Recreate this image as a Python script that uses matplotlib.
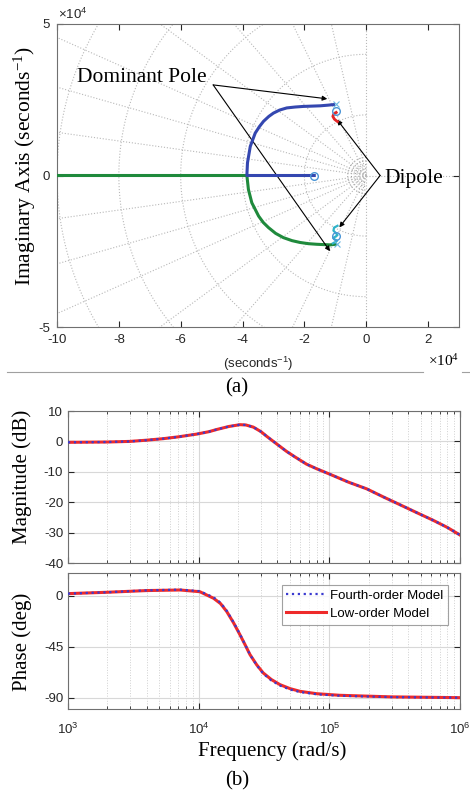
import numpy as np
import matplotlib
matplotlib.use("Agg")
import matplotlib.pyplot as plt
from matplotlib.lines import Line2D

plt.rcParams['font.family'] = ['Liberation Sans', 'DejaVu Sans']
plt.rcParams['mathtext.default'] = 'regular'
plt.rcParams['axes.unicode_minus'] = False

SERIF = ['Liberation Serif', 'DejaVu Serif']

# ---- root locus data (units of 1e4 s^-1) ----
blue_re = [-1.68, -2.5, -3.3, -3.86, -3.84, -3.75, -3.59, -3.45, -3.32, -3.15, -3.0, -2.8,
           -2.57, -2.3, -2.03, -1.75, -1.49, -1.25, -1.06]
blue_im = [0.0, 0.0, 0.0, 0.0, 0.42, 0.96, 1.40, 1.62, 1.79, 1.95, 2.06, 2.16,
           2.23, 2.26, 2.28, 2.29, 2.30, 2.32, 2.34]
green_re = [-10.0, -7.0, -5.0, -3.86, -3.81, -3.70, -3.48, -3.33, -3.16, -2.93, -2.68, -2.4,
            -2.14, -1.87, -1.60, -1.17, -1.0]
green_im = [0.0, 0.0, 0.0, 0.0, -0.46, -0.90, -1.34, -1.55, -1.72, -1.91, -2.05, -2.15,
            -2.21, -2.25, -2.27, -2.29, -2.27]
red_re = [-0.97, -1.05, -1.08, -1.03, -0.97, -0.93]
red_im = [2.08, 2.03, 1.95, 1.86, 1.81, 1.78]
cyan_re = [-0.93, -1.04, -1.06, -0.98, -0.93, -1.0, -1.07, -1.02, -0.94, -1.0, -1.08]
cyan_im = [-1.66, -1.72, -1.82, -1.9, -1.97, -2.02, -2.06, -2.11, -2.15, -2.2, -2.24]
pole_re = [-1.68, -0.97, -0.97]
pole_im = [0.0, 2.12, -2.0]
end_re = [-0.98, -0.95]
end_im = [2.36, -2.27]

# s-grid
zetas = [0.0, 0.22, 0.43, 0.65, 0.8, 0.91, 0.96, 0.99]
wns = [0.12, 0.24, 0.36, 0.48, 0.6, 2, 4, 6, 8, 10]

# ---- bode data ----
freq = [1e3, 2e3, 2.98e3, 4e3, 5.36e3, 7e3, 9.66e3, 1.2e4, 1.37e4, 1.7e4, 2.07e4, 2.3e4,
        2.62e4, 3.0e4, 3.31e4, 4.0e4, 4.71e4, 5.5e4, 6.7e4, 8e4, 1.01e5, 1.4e5, 1.93e5,
        2.6e5, 3.5e5, 4.7e5, 6.2e5, 8e5, 1e6]
mag_low = [-0.3, -0.2, 0.0, 0.4, 0.9, 1.5, 2.4, 3.2, 3.9, 4.9, 5.5, 5.4,
           4.7, 3.2, 1.7, -1.0, -3.3, -5.2, -7.5, -9.0, -10.8, -13.4, -15.6,
           -18.3, -20.9, -23.5, -25.9, -28.3, -30.8]
mag_full = [-0.3, -0.2, 0.0, 0.4, 0.9, 1.5, 2.4, 3.2, 3.9, 4.9, 5.5, 5.4,
            4.7, 3.2, 1.7, -1.0, -3.3, -5.2, -7.5, -9.0, -10.8, -13.4, -15.6,
            -18.3, -20.9, -23.5, -25.9, -28.3, -30.8]
freq_p = [1e3, 2e3, 4e3, 7.2e3, 1.02e4, 1.3e4, 1.47e4, 1.64e4, 1.85e4, 2.07e4, 2.27e4,
          2.47e4, 2.78e4, 3.12e4, 3.6e4, 4.19e4, 5e4, 5.96e4, 8e4, 1.2e5, 3e5, 1e6]
ph_low = [1.8, 3.0, 4.5, 5.0, 3.5, -2.3, -7.0, -14.0, -24.0, -34.5, -43.5,
          -52.0, -61.0, -68.2, -74.0, -78.5, -82.0, -84.4, -86.5, -87.9, -89.3, -90.0]
ph_full = [1.8, 3.0, 4.7, 5.3, 4.0, -1.5, -6.2, -13.3, -23.5, -34.0, -43.3,
           -52.0, -61.3, -68.8, -74.8, -79.3, -82.8, -85.0, -87.0, -88.3, -89.5, -90.0]

fig = plt.figure(figsize=(4.70, 7.94), dpi=100)

spine_col = '#707070'
tick_col = '#262626'

# ---------------- (a) root locus ----------------
ax = fig.add_axes([57/470, 1 - 327/794, 402/470, 303/794])
ax.set_xlim(-10, 3)
ax.set_ylim(-5, 5)

th = np.linspace(np.pi/2, 3*np.pi/2, 200)
for wn in wns:
    col = '#9a9a9a' if wn < 1 else '#b8b8b8'
    ax.plot(wn*np.cos(th), wn*np.sin(th), ls=':', color=col, lw=0.8, zorder=1)
for z in zetas:
    ang = np.arccos(z)
    r = 15
    ax.plot([0, -r*np.cos(ang)], [0, r*np.sin(ang)], ls=':', color='#b8b8b8', lw=0.8, zorder=1)
    ax.plot([0, -r*np.cos(ang)], [0, -r*np.sin(ang)], ls=':', color='#b8b8b8', lw=0.8, zorder=1)
ax.plot([0, 3], [0, 0], ls=':', color='#b8b8b8', lw=0.8, zorder=1)

ax.plot(green_re, green_im, color='#1f8a3c', lw=2.2, zorder=3, solid_joinstyle='round')
ax.plot(blue_re, blue_im, color='#3447b0', lw=2.2, zorder=4, solid_joinstyle='round')
ax.plot(red_re, red_im, color='#e42626', lw=2.0, zorder=4)
ax.plot(cyan_re, cyan_im, color='#2fb3c9', lw=1.6, zorder=4)
ax.plot(pole_re, pole_im, 'o', ms=5.5, mfc='none', mec='#4a95d6', mew=1.0, zorder=5)
ax.plot(end_re, end_im, 'x', ms=4, mec='#6ab8e0', mew=0.8, zorder=5)

ax.set_xticks([-10, -8, -6, -4, -2, 0, 2])
ax.set_yticks([-5, 0, 5])
ax.tick_params(direction='in', top=True, right=True, length=4, labelsize=9.5,
               colors=tick_col, pad=5)
for s in ax.spines.values():
    s.set_color(spine_col)

arrow = dict(arrowstyle='-|>', color='black', lw=0.8, mutation_scale=7, shrinkA=0, shrinkB=0)
ax.text(-5.15, 3.07, 'Dominant Pole', family=SERIF, fontsize=15.5, ha='right', va='baseline')
ax.annotate('', xy=(-1.26, 2.53), xytext=(-4.95, 2.99), arrowprops=arrow)
ax.annotate('', xy=(-1.17, -2.5), xytext=(-4.95, 2.99), arrowprops=arrow)
ax.text(0.6, -0.26, 'Dipole', family=SERIF, fontsize=15.5, ha='left', va='baseline')
ax.annotate('', xy=(-0.94, 1.84), xytext=(0.45, 0), arrowprops=arrow)
ax.annotate('', xy=(-0.87, -1.71), xytext=(0.45, 0), arrowprops=arrow)

fig.text(25/470, 1 - 166/794, 'Imaginary Axis (seconds$^{-1}$)', family=SERIF, fontsize=15.5,
         rotation=90, ha='center', va='center')
fig.text(58/470, 1 - 19/794, '×10$^4$', fontsize=9.5, color=tick_col, va='baseline')
fig.text(258/470, 1 - 364/794, '(seconds$^{-1}$)', fontsize=9.5, color=tick_col,
         ha='center', va='center')
fig.text(428/470, 1 - 366/794, '×10$^4$', family=SERIF, fontsize=11, va='baseline')
fig.add_artist(Line2D([7/470, 423/470], [1 - 372/794]*2, color='#a0a0a0', lw=0.8))
fig.add_artist(Line2D([462/470, 1.0], [1 - 372/794]*2, color='#a0a0a0', lw=0.8))
fig.text(237/470, 1 - 388/794, '(a)', family=SERIF, fontsize=15, ha='center', va='center')

# ---------------- (b) bode ----------------
axm = fig.add_axes([68/470, 1 - 563/794, 392/470, 152/794])
axp = fig.add_axes([68/470, 1 - 709/794, 392/470, 136/794])

axm.semilogx(freq, mag_full, ls=':', color='#3a3ad0', lw=1.6, zorder=3)
axm.semilogx(freq, mag_low, color='#ee2a2a', lw=2.2, zorder=2, solid_joinstyle='round')
axm.set_ylim(-40, 10)
axm.set_yticks([10, 0, -10, -20, -30, -40])

axp.semilogx(freq_p, ph_full, ls=':', color='#3a3ad0', lw=1.6, zorder=3, label='Fourth-order Model')
axp.semilogx(freq_p, ph_low, color='#ee2a2a', lw=2.2, zorder=2, label='Low-order Model',
             solid_joinstyle='round')
axp.set_ylim(-100, 20)
axp.set_yticks([0, -45, -90])

for a in (axm, axp):
    a.set_xlim(1e3, 1e6)
    a.grid(True, which='major', color='#d8d8d8', lw=0.8, ls='-')
    a.grid(True, which='minor', axis='x', color='#d0d0d0', lw=0.7, ls=':')
    a.tick_params(which='both', direction='in', top=True, right=True, colors=tick_col,
                  labelsize=9.5)
    a.tick_params(which='major', length=4)
    a.tick_params(which='minor', length=2)
    for s in a.spines.values():
        s.set_color(spine_col)
    a.set_axisbelow(True)
axm.tick_params(labelbottom=False)
axp.tick_params(axis='x', pad=9)

leg = axp.legend(loc='upper right', bbox_to_anchor=(0.969, 0.912), borderaxespad=0,
                 fontsize=9.5, frameon=True, fancybox=False, handlelength=3,
                 handletextpad=0.3, labelspacing=0.45, borderpad=0.35)
leg.get_frame().set_edgecolor('#8a8a8a')
leg.get_frame().set_linewidth(0.8)

fig.text(22/470, 1 - 477/794, 'Magnitude (dB)', family=SERIF, fontsize=15, rotation=90,
         ha='center', va='center')
fig.text(22/470, 1 - 642/794, 'Phase (deg)', family=SERIF, fontsize=15, rotation=90,
         ha='center', va='center')
fig.text(272/470, 1 - 751/794, 'Frequency (rad/s)', family=SERIF, fontsize=15,
         ha='center', va='center')
fig.text(237/470, 1 - 781/794, '(b)', family=SERIF, fontsize=15, ha='center', va='center')

fig.savefig('out.png', dpi=100)
